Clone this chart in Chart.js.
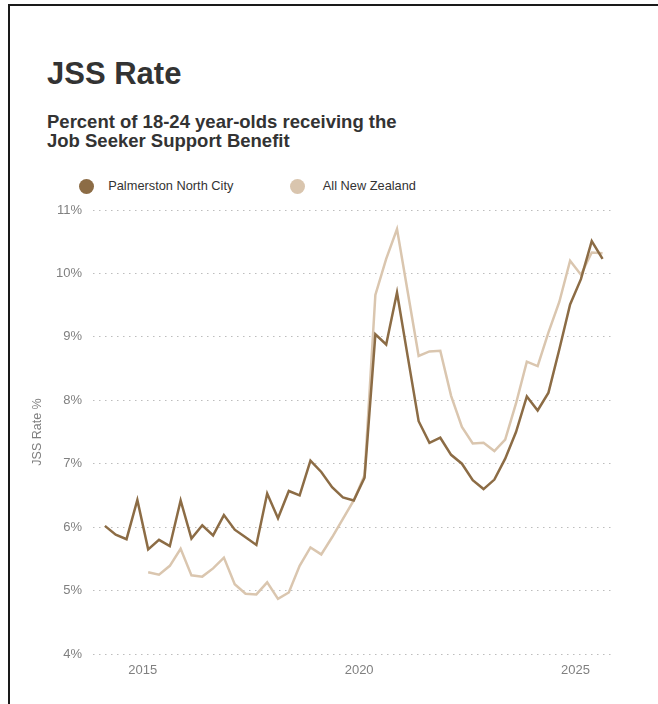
<!DOCTYPE html>
<html>
<head>
<meta charset="utf-8">
<script src="https://cdn.jsdelivr.net/npm/chart.js@4.4.0/dist/chart.umd.min.js"></script>
<style>
  body { margin: 0; background: #fff; font-family: "Liberation Sans", Arial, sans-serif; }
  #frame { position: absolute; left: 8px; top: 4px; width: 720px; height: 720px;
           border-top: 2px solid #1a1a1a; border-left: 2px solid #1a1a1a; }
  .title { position: absolute; left: 47px; top: 56px; margin: 0; font-size: 31px; font-weight: bold; color: #333; }
  .subtitle { position: absolute; left: 47px; top: 112px; margin: 0; font-size: 18.5px; line-height: 19px;
              font-weight: bold; color: #333; }
  .legend { position: absolute; top: 178px; left: 79px; font-size: 12.8px; color: #333; }
  .legend span { position: absolute; white-space: nowrap; top: 0; line-height: 16px; }
  .dot { display: inline-block; width: 15px; height: 15px; border-radius: 50%; vertical-align: middle; }
  canvas { position: absolute; left: 0; top: 0; }
</style>
</head>
<body>
<div id="frame"></div>
<h1 class="title">JSS Rate</h1>
<p class="subtitle">Percent of 18-24 year-olds receiving the<br>Job Seeker Support Benefit</p>
<div class="legend">
  <span style="left:0"><i class="dot" style="background:#8c6c45"></i>&nbsp;&nbsp;&nbsp;&nbsp;Palmerston North City</span>
  <span style="left:211px"><i class="dot" style="background:#d9c5ae"></i>&nbsp;&nbsp;&nbsp;&nbsp;&nbsp;All New Zealand</span>
</div>
<canvas id="chart" width="658" height="704"></canvas>
<script>
const quarters = [
  "2014-02", "2014-05", "2014-08", "2014-11",
  "2015-02", "2015-05", "2015-08", "2015-11",
  "2016-02", "2016-05", "2016-08", "2016-11",
  "2017-02", "2017-05", "2017-08", "2017-11",
  "2018-02", "2018-05", "2018-08", "2018-11",
  "2019-02", "2019-05", "2019-08", "2019-11",
  "2020-02", "2020-05", "2020-08", "2020-11",
  "2021-02", "2021-05", "2021-08", "2021-11",
  "2022-02", "2022-05", "2022-08", "2022-11",
  "2023-02", "2023-05", "2023-08", "2023-11",
  "2024-02", "2024-05", "2024-08", "2024-11",
  "2025-02", "2025-05", "2025-08"
]

const palmerstonNorth = [
  6.02, 5.88, 5.81, 6.43,
  5.65, 5.80, 5.70, 6.42,
  5.82, 6.03, 5.87, 6.19,
  5.96, 5.84, 5.72, 6.53,
  6.14, 6.57, 6.50, 7.05,
  6.87, 6.63, 6.47, 6.42,
  6.78, 9.04, 8.88, 9.70,
  8.68, 7.67, 7.33, 7.41,
  7.14, 7.00, 6.74, 6.60,
  6.75, 7.08, 7.50, 8.06,
  7.84, 8.12, 8.80, 9.51,
  9.91, 10.51, 10.23
]

const allNewZealand = [
  null, null, null, null,
  5.29, 5.25, 5.39, 5.66,
  5.24, 5.22, 5.35, 5.52,
  5.10, 4.95, 4.94, 5.13,
  4.87, 4.97, 5.39, 5.68,
  5.57, 5.84, 6.13, 6.42,
  6.82, 9.66, 10.23, 10.70,
  9.70, 8.70, 8.77, 8.78,
  8.07, 7.58, 7.32, 7.33,
  7.20, 7.38, 7.95, 8.61,
  8.54, 9.07, 9.55, 10.20,
  9.98, 10.33, 10.32
]

const yearTicks = [2015, 2020, 2025]

// quarter label -> decimal year (middle of the month)
function toYear(q) {
    const [y, m] = q.split("-").map(Number)
    return y + (m - 0.5) / 12
}

function points(values) {
    return quarters.map((q, i) => ({ x: toYear(q), y: values[i] }))
}

const ctx = document.getElementById("chart").getContext("2d")
new Chart(ctx, {
    type: "line",
    data: {
        datasets: [
            {
                label: "All New Zealand",
                data: points(allNewZealand),
                borderColor: "#dac6af",
                borderWidth: 2.5,
                pointRadius: 0,
                order: 2
            },
            {
                label: "Palmerston North City",
                data: points(palmerstonNorth),
                borderColor: "#8c6c45",
                borderWidth: 2.5,
                pointRadius: 0,
                order: 1
            }
        ]
    },
    options: {
        responsive: false,
        animation: false,
        devicePixelRatio: 1,
        layout: { padding: { left: 23, top: 210, right: 47, bottom: 20 } },
        plugins: {
            legend: { display: false },
            tooltip: { enabled: false }
        },
        scales: {
            x: {
                type: "linear",
                min: 2013.85,
                max: 2025.82,
                grid: { display: false },
                border: { display: false },
                afterBuildTicks: (scale) => {
                    scale.ticks = yearTicks.map(v => ({ value: v }))
                },
                afterFit: (scale) => { scale.height = 30 },
                ticks: {
                    padding: 1,
                    color: "#808080",
                    font: { family: "Liberation Sans", size: 13 },
                    callback: (v) => String(v)
                }
            },
            y: {
                min: 4,
                max: 11,
                afterFit: (scale) => { scale.width = 70 },
                grid: { color: "#bdbdbd", lineWidth: 1, drawTicks: false },
                border: { display: false, dash: [1.5, 4.5] },
                ticks: {
                    stepSize: 1,
                    padding: 11,
                    color: "#808080",
                    font: { family: "Liberation Sans", size: 13 },
                    callback: (v) => v + "%"
                },
                title: {
                    display: true,
                    text: "JSS Rate %",
                    color: "#808080",
                    padding: { top: 7, bottom: 0 },
                    font: { family: "Liberation Sans", size: 12.5 }
                }
            }
        }
    }
})
</script>
</body>
</html>
